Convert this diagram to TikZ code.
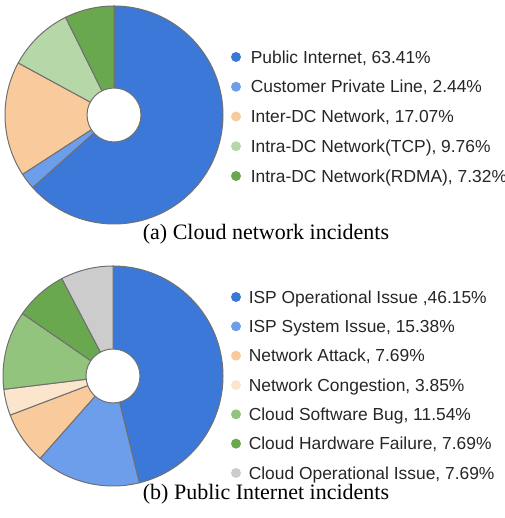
\documentclass[tikz,border=0pt]{standalone}
\usepackage{fontspec}
\setmainfont{Liberation Serif}
\setsansfont{Liberation Sans}
\usetikzlibrary{positioning}
\definecolor{darkblue}{HTML}{3C78D8}
\definecolor{lightblue}{HTML}{6D9EEB}
\definecolor{peach}{HTML}{F9CB9C}
\definecolor{cream}{HTML}{FCE5CD}
\definecolor{palegreen}{HTML}{B6D7A8}
\definecolor{softgreen}{HTML}{93C47D}
\definecolor{midgreen}{HTML}{6AA84F}
\definecolor{lightgrey}{HTML}{CCCCCC}
\definecolor{edgegrey}{HTML}{707070}
\tikzset{
  slice/.style={draw=edgegrey, line width=0.5pt},
  legdot/.style={circle, inner sep=0pt, minimum size=5pt},
  legtext/.style={anchor=west, inner sep=0pt, text height=6.2pt, text depth=0pt,
    font=\sffamily\fontsize{8.7}{10}\selectfont, text=black!85},
  caption/.style={font=\fontsize{11}{13}\selectfont}
}
\begin{document}
\begin{tikzpicture}[x=0.5pt,y=0.5pt]
    \useasboundingbox (0,0) rectangle (504,518);
    % (a) cloud network incidents
    \coordinate (pie-a) at (114,403);
    \foreach \a/\b/\col in {0/63.41/darkblue, 63.41/65.85/lightblue, 65.85/82.92/peach, 82.92/92.68/palegreen, 92.68/100/midgreen}{
        \filldraw[slice, fill=\col] (pie-a) -- ++(90-3.6*\a:109) arc[start angle=90-3.6*\a, end angle=90-3.6*\b, radius=109] -- cycle;
    }
    \filldraw[slice, fill=white] (pie-a) circle[radius=27]; % hole
    \foreach \col/\txt [count=\i] in {darkblue/{Public Internet, 63.41\%}, lightblue/{Customer Private Line, 2.44\%}, peach/{Inter-DC Network, 17.07\%}, palegreen/{Intra-DC Network(TCP), 9.76\%}, midgreen/{Intra-DC Network(RDMA), 7.32\%}}{
        \node[legdot, fill=\col] (dot-a-\i) at (236,490.75-29.75*\i) {};
        \node[legtext, right=4.5pt of dot-a-\i] (leg-a-\i) {\txt};
    }
    \node[caption] (cap-a) at (266,284) {(a) Cloud network incidents};
    % (b) public internet incidents
    \coordinate (pie-b) at (113,142);
    \foreach \a/\b/\col in {0/46.15/darkblue, 46.15/61.53/lightblue, 61.53/69.22/peach, 69.22/73.07/cream, 73.07/84.61/softgreen, 84.61/92.30/midgreen, 92.30/100/lightgrey}{
        \filldraw[slice, fill=\col] (pie-b) -- ++(90-3.6*\a:110) arc[start angle=90-3.6*\a, end angle=90-3.6*\b, radius=110] -- cycle;
    }
    \filldraw[slice, fill=white] (pie-b) circle[radius=27]; % hole
    \foreach \col/\txt [count=\i] in {darkblue/{ISP Operational Issue ,46.15\%}, lightblue/{ISP System Issue, 15.38\%}, peach/{Network Attack, 7.69\%}, cream/{Network Congestion, 3.85\%}, softgreen/{Cloud Software Bug, 11.54\%}, midgreen/{Cloud Hardware Failure, 7.69\%}, lightgrey/{Cloud Operational Issue, 7.69\%}}{
        \node[legdot, fill=\col] (dot-b-\i) at (236,250.33-29.33*\i) {};
        \node[legtext, right=3.5pt of dot-b-\i] (leg-b-\i) {\txt};
    }
    \node[caption] (cap-b) at (266,24) {(b) Public Internet incidents};
\end{tikzpicture}
\end{document}
